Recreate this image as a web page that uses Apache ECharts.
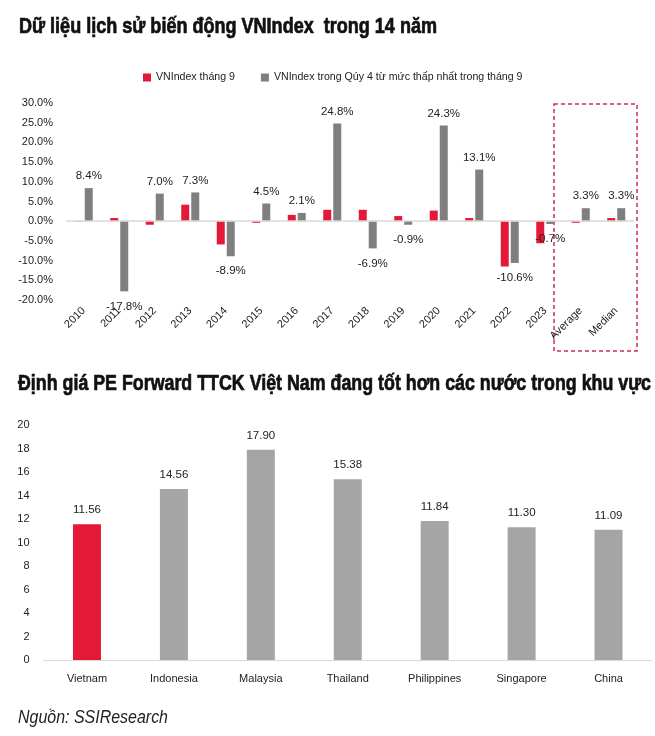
<!DOCTYPE html>
<html>
<head>
<meta charset="utf-8">
<script src="https://cdn.jsdelivr.net/npm/echarts@6/dist/echarts.min.js"></script>
<style>
html,body{margin:0;padding:0;background:#fff;}
#c{width:655px;height:736px;}
</style>
</head>
<body>
<div id="c"></div>
<script>
var years = ['2010','2011','2012','2013','2014','2015','2016','2017','2018','2019','2020','2021','2022','2023','Average','Median'];
var sepValues = [-0.1, 0.8, -0.9, 4.2, -5.9, -0.4, 1.6, 2.9, 2.9, 1.3, 2.7, 0.8, -11.5, -5.6, -0.4, 0.8];
var q4Values = [8.4, -17.8, 7.0, 7.3, -8.9, 4.5, 2.1, 24.8, -6.9, -0.9, 24.3, 13.1, -10.6, -0.7, 3.3, 3.3];
var seriesNames = ['VNIndex tháng 9', 'VNIndex trong Qúy 4 từ mức thấp nhất trong tháng 9'];

var countries = ['Vietnam','Indonesia','Malaysia','Thailand','Philippines','Singapore','China'];
var peValues = [11.56, 14.56, 17.90, 15.38, 11.84, 11.30, 11.09];

var title1 = 'Dữ liệu lịch sử biến động VNIndex  trong 14 năm';
var title2 = 'Định giá PE Forward TTCK Việt Nam đang tốt hơn các nước trong khu vực';
var sourceText = 'Nguồn: SSIResearch';

var FONT = '"Liberation Sans Narrow","Arial Narrow","Liberation Sans",Arial,sans-serif';
var RED = '#e31937';
var DGRAY = '#7f7f7f';
var LGRAY = '#a5a5a5';

var ctx = document.createElement('canvas').getContext('2d');
function fitScale(text, font, target) {
  ctx.font = font;
  var w = ctx.measureText(text).width;
  return w > 0 ? target / w : 1;
}
var TFONT = 'bold 22px ' + FONT;
var SFONT = 'italic 18px ' + FONT;

var q4Data = q4Values.map(function (v) {
  return {
    value: v,
    label: v >= 0 ? { position: 'top', distance: 6 } : { position: 'bottom', distance: 9 }
  };
});

var chart = echarts.init(document.getElementById('c'), null, { renderer: 'canvas' });
chart.setOption({
  animation: false,
  backgroundColor: '#fff',
  textStyle: { fontFamily: FONT },
  legend: {
    top: 67, left: 138,
    itemWidth: 8, itemHeight: 8, itemGap: 26,
    icon: 'rect',
    textStyle: { fontFamily: FONT, fontSize: 10.6, color: '#222' },
    data: seriesNames
  },
  grid: [
    { left: 66, right: 21, top: 103, height: 197 },
    { left: 43.5, right: 3, top: 425, height: 235 }
  ],
  xAxis: [
    { type: 'category', gridIndex: 0, data: years,
      axisLine: { show: false, onZero: false }, axisTick: { show: false },
      axisLabel: { rotate: 45, fontSize: 11, color: '#222', fontFamily: FONT, margin: 9, interval: 0 } },
    { type: 'category', gridIndex: 1, data: countries,
      axisLine: { show: true, lineStyle: { color: '#d9d9d9', width: 1 } }, axisTick: { show: false },
      axisLabel: { fontSize: 11, color: '#222', fontFamily: FONT, margin: 13, interval: 0 } }
  ],
  yAxis: [
    { type: 'value', gridIndex: 0, min: -20, max: 30, interval: 5,
      splitLine: { show: false }, axisLine: { show: false }, axisTick: { show: false },
      axisLabel: { fontSize: 11, color: '#222', fontFamily: FONT, margin: 13,
        formatter: function (v) { return v.toFixed(1) + '%'; } } },
    { type: 'value', gridIndex: 1, min: 0, max: 20, interval: 2,
      splitLine: { show: false }, axisLine: { show: false }, axisTick: { show: false },
      axisLabel: { fontSize: 11, color: '#222', fontFamily: FONT, margin: 14 } }
  ],
  series: [
    { name: seriesNames[0], type: 'bar', xAxisIndex: 0, yAxisIndex: 0,
      data: sepValues, barWidth: 8, barGap: '25%',
      itemStyle: { color: RED },
      markLine: { silent: true, symbol: 'none', label: { show: false },
        lineStyle: { color: '#d9d9d9', type: 'solid', width: 1.5 },
        data: [{ yAxis: 0 }] } },
    { name: seriesNames[1], type: 'bar', xAxisIndex: 0, yAxisIndex: 0,
      data: q4Data, barWidth: 8, barGap: '25%',
      itemStyle: { color: DGRAY },
      label: { show: true, fontSize: 11.5, color: '#222', fontFamily: FONT,
        formatter: function (p) { return p.value.toFixed(1) + '%'; } } },
    { name: 'PE', type: 'bar', xAxisIndex: 1, yAxisIndex: 1,
      data: peValues.map(function (v, i) { return { value: v, itemStyle: { color: i === 0 ? RED : LGRAY } }; }),
      barWidth: 28,
      label: { show: true, position: 'top', distance: 8, fontSize: 11.5, color: '#222', fontFamily: FONT,
        formatter: function (p) { return p.value.toFixed(2); } } }
  ],
  graphic: [
    { type: 'text', x: 19, y: 27, scaleX: fitScale(title1, TFONT, 418),
      style: { text: title1, fontSize: 22, fontWeight: 'bold', fontFamily: FONT, fill: '#111',
        stroke: '#111', lineWidth: 0.7, verticalAlign: 'middle', align: 'left' } },
    { type: 'text', x: 18, y: 384, scaleX: fitScale(title2, TFONT, 633),
      style: { text: title2, fontSize: 22, fontWeight: 'bold', fontFamily: FONT, fill: '#111',
        stroke: '#111', lineWidth: 0.7, verticalAlign: 'middle', align: 'left' } },
    { type: 'text', x: 18, y: 718, scaleX: fitScale(sourceText, SFONT, 150),
      style: { text: sourceText, fontSize: 18, fontStyle: 'italic', fontFamily: FONT, fill: '#222',
        verticalAlign: 'middle', align: 'left' } },
    { type: 'rect', shape: { x: 554, y: 104, width: 83, height: 247 },
      style: { fill: 'none', stroke: '#c8324f', lineWidth: 1.5, lineDash: [4, 3] } }
  ]
});
</script>
</body>
</html>
